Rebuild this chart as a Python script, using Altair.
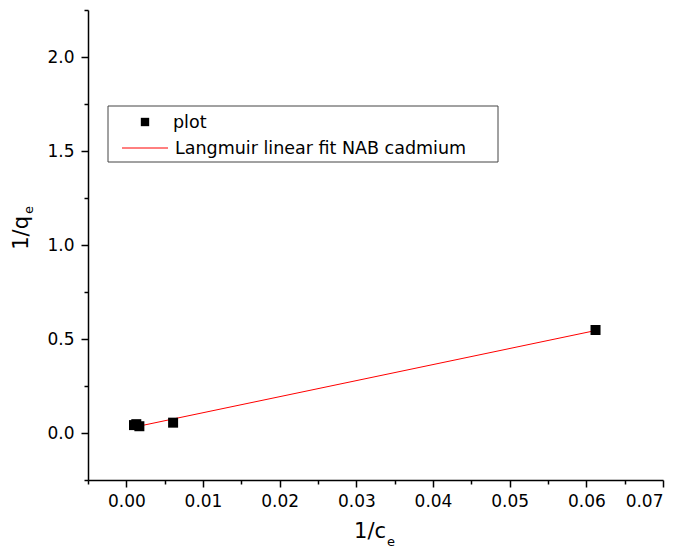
import altair as alt
import pandas as pd

# data
px = [0.0010, 0.0013, 0.0017, 0.0061, 0.0612]
py = [0.042, 0.047, 0.036, 0.055, 0.548]
fit_x = [0.0010, 0.0612]
fit_y = [0.031, 0.545]

x_major = [0.00, 0.01, 0.02, 0.03, 0.04, 0.05, 0.06, 0.07]
x_minor = [-0.005, 0.005, 0.015, 0.025, 0.035, 0.045, 0.055, 0.065]
y_major = [0.0, 0.5, 1.0, 1.5, 2.0]
y_minor = [-0.25, 0.25, 0.75, 1.25, 1.75, 2.25]

legend_labels = ["plot", "Langmuir linear fit NAB cadmium"]

FONT = "DejaVu Sans"
W, H = 575, 470

pts = pd.DataFrame({"x": px, "y": py})
fit = pd.DataFrame({"x": fit_x, "y": fit_y})

xscale = alt.Scale(domain=[-0.005, 0.07], nice=False, zero=False)
yscale = alt.Scale(domain=[-0.25, 2.25], nice=False, zero=False)

axis_common = dict(domainColor="black", domainWidth=1.5, tickColor="black", tickWidth=1.5,
                   grid=False, labelFont=FONT, labelFontSize=17, labelColor="black",
                   title=None)

xa = alt.Axis(values=x_major, format=".2f", tickSize=7, labelPadding=6, orient="bottom", **axis_common)
ya = alt.Axis(values=y_major, format=".1f", tickSize=7, labelPadding=7, orient="left", **axis_common)
xa_min = alt.Axis(values=x_minor, labels=False, domain=False, tickSize=4, orient="bottom",
                  tickColor="black", tickWidth=1.5, grid=False, title=None)
ya_min = alt.Axis(values=y_minor, labels=False, domain=False, tickSize=4, orient="left",
                  tickColor="black", tickWidth=1.5, grid=False, title=None)

points = alt.Chart(pts).mark_square(size=100, color="black", opacity=1).encode(
    x=alt.X("x:Q", scale=xscale, axis=xa),
    y=alt.Y("y:Q", scale=yscale, axis=ya),
)

minor = alt.Chart(pts).mark_point(opacity=0).encode(
    x=alt.X("x:Q", scale=xscale, axis=xa_min),
    y=alt.Y("y:Q", scale=yscale, axis=ya_min),
)

line = alt.Chart(fit).mark_line(color="red", strokeWidth=1).encode(
    x=alt.X("x:Q", scale=xscale, axis=None),
    y=alt.Y("y:Q", scale=yscale, axis=None),
)

one = pd.DataFrame({"a": [0]})

def txt(text, x, y, size, align="left", angle=0, baseline="alphabetic"):
    return alt.Chart(one).mark_text(text=text, font=FONT, fontSize=size, color="black",
                                     align=align, baseline=baseline, angle=angle).encode(
        x=alt.value(x), y=alt.value(y))

xtitle = txt("1/c", 298, 528, 21, align="right") + txt("e", 299, 536, 13)
ytitle = txt("1/q", -60, 206, 21, align="right", angle=270) + txt("e", -55, 204, 13, angle=270)

legend_box = alt.Chart(one).mark_rect(fill="white", stroke="#444444", strokeWidth=1).encode(
    x=alt.value(20), x2=alt.value(410), y=alt.value(96), y2=alt.value(152))
legend_sq = alt.Chart(one).mark_square(size=70, color="black", opacity=1).encode(
    x=alt.value(57), y=alt.value(112))
legend_ln = alt.Chart(one).mark_rule(color="red", strokeWidth=1).encode(
    x=alt.value(34), x2=alt.value(80), y=alt.value(138))
legend_t1 = txt(legend_labels[0], 85, 118, 17.5)
legend_t2 = txt(legend_labels[1], 87, 144, 17.5)

chart = alt.layer(
    minor, line, points, xtitle, ytitle,
    legend_box, legend_sq, legend_ln, legend_t1, legend_t2,
).resolve_axis(x="independent", y="independent").properties(
    width=W, height=H,
    autosize=alt.AutoSizeParams(type="none"),
    padding={"left": 80, "top": 2, "right": 12, "bottom": 70},
).configure_view(stroke=None)

chart.save("out.html", embed_options={"renderer": "svg", "actions": False})
